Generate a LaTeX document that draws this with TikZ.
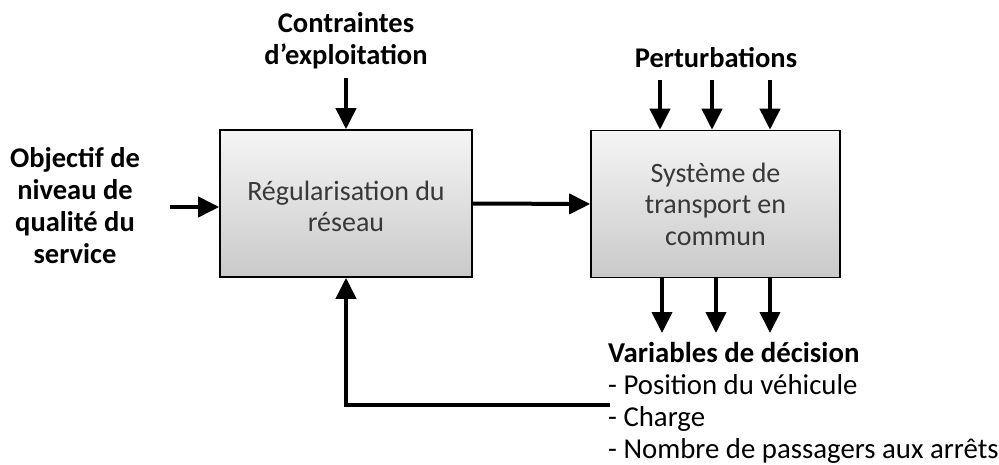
\documentclass[tikz,border=0pt]{standalone}
\usepackage{fontspec}
\setmainfont{Carlito}
\usetikzlibrary{arrows.meta,positioning}
\tikzset{
  blockbox/.style={draw=black, line width=1.6pt, top color=gray!8, bottom color=gray!42,
    minimum width=252pt, minimum height=147pt, align=center, text=black!78,
    font=\fontsize{28}{31.5}\selectfont, inner sep=0pt},
  arr/.style={line width=4pt, -{Triangle[length=21pt,width=20pt]}},
  lbl/.style={font=\bfseries\fontsize{28.5}{32}\selectfont, align=center, inner sep=0pt},
  lst/.style={font=\fontsize{28.8}{32}\selectfont, align=left, inner sep=0pt, anchor=north west}
}
\begin{document}
\begin{tikzpicture}[x=1pt,y=-1pt]
\useasboundingbox (0,0) rectangle (999,465);
\node[blockbox] (reg) at (346,203.5) {\raisebox{-6pt}[\height][\depth]{\begin{tabular}{@{}c@{}}Régularisation du\\réseau\end{tabular}}};
\node[blockbox, minimum width=249pt] (sys) at (715.5,204) {Système de\\transport en\\commun};
\node[lbl] (contr) at (346,41) {Contraintes\\d’exploitation};
\node[lbl] (obj) at (75,206) {Objectif de\\niveau de\\qualité du\\service};
\node[lbl] (pert) at (716,58) {Perturbations};
\node[lst] (vars) at (608,342) {\textbf{Variables de décision}\\- Position du véhicule\\- Charge\\- Nombre de passagers aux arrêts};
\coordinate (cin) at (346,78);
\coordinate (oin) at (170,207);
\coordinate (p1) at (660,80);
\coordinate (p2) at (712,80);
\coordinate (p3) at (770,80);
\coordinate (d1) at (662,333);
\coordinate (d2) at (716,333);
\coordinate (d3) at (770,333);
\coordinate (fb) at (610,405);
\draw[arr] (cin) -- (reg.north);
\draw[arr] (oin) -- (oin -| reg.west);
\draw[arr] (reg.east) -- (sys.west);
\foreach \p in {p1,p2,p3} \draw[arr] (\p) -- (\p |- sys.north);
\foreach \d in {d1,d2,d3} \draw[arr] (\d |- sys.south) -- (\d);
\draw[arr] (fb) -| (reg.south);
\end{tikzpicture}
\end{document}
